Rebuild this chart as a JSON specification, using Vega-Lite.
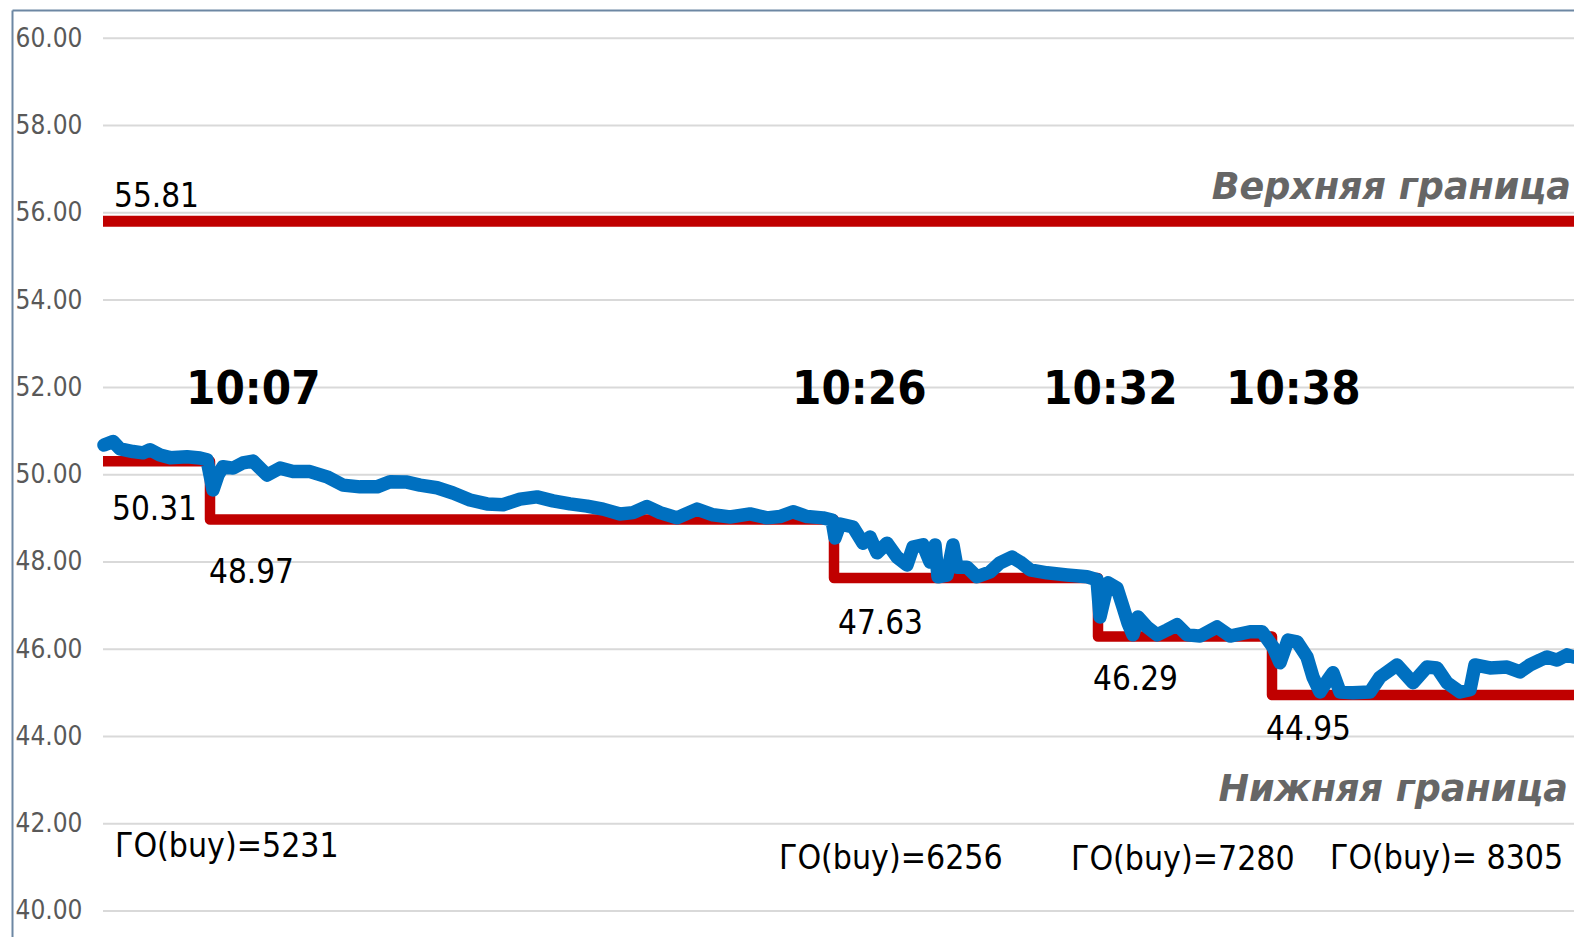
{
  "$schema": "https://vega.github.io/schema/vega-lite/v6.json",
  "width": 1562,
  "height": 927,
  "autosize": {"type": "none"},
  "padding": {"left": 12, "top": 10, "right": 0, "bottom": 0},
  "background": "white",
  "config": {"view": {"stroke": null}},
  "datasets": {
    "gridlines": [{"v": 40}, {"v": 42}, {"v": 44}, {"v": 46}, {"v": 48}, {"v": 50}, {"v": 52}, {"v": 54}, {"v": 56}, {"v": 58}, {"v": 60}],
    "upper": [{"n": 0, "v": 55.81}, {"n": 1471, "v": 55.81}],
    "steps": [{"n": 0, "v": 50.31}, {"n": 107, "v": 48.97}, {"n": 731, "v": 47.63}, {"n": 995, "v": 46.29}, {"n": 1169, "v": 44.95}, {"n": 1471, "v": 44.95}],
    "price": [
      {"n":1,"v":50.68},{"n":10,"v":50.76},{"n":17,"v":50.59},{"n":30,"v":50.53},{"n":40,"v":50.50},{"n":47,"v":50.57},{"n":57,"v":50.45},{"n":67,"v":50.39},{"n":84,"v":50.41},{"n":97,"v":50.38},{"n":104,"v":50.34},{"n":110,"v":49.65},{"n":115,"v":49.99},{"n":120,"v":50.18},{"n":130,"v":50.15},{"n":140,"v":50.27},{"n":150,"v":50.31},{"n":164,"v":49.99},{"n":177,"v":50.15},{"n":190,"v":50.07},{"n":207,"v":50.07},{"n":224,"v":49.95},{"n":240,"v":49.76},{"n":257,"v":49.72},{"n":274,"v":49.72},{"n":287,"v":49.84},{"n":304,"v":49.83},{"n":317,"v":49.76},{"n":334,"v":49.70},{"n":350,"v":49.58},{"n":367,"v":49.42},{"n":384,"v":49.33},{"n":400,"v":49.31},{"n":417,"v":49.44},{"n":434,"v":49.49},{"n":450,"v":49.40},{"n":467,"v":49.33},{"n":484,"v":49.28},{"n":500,"v":49.21},{"n":517,"v":49.10},{"n":530,"v":49.13},{"n":544,"v":49.27},{"n":557,"v":49.13},{"n":574,"v":49.01},{"n":594,"v":49.21},{"n":610,"v":49.08},{"n":627,"v":49.03},{"n":647,"v":49.10},{"n":664,"v":49.01},{"n":677,"v":49.04},{"n":690,"v":49.15},{"n":704,"v":49.04},{"n":720,"v":49.01},{"n":729,"v":48.96},{"n":732,"v":48.55},{"n":737,"v":48.87},{"n":750,"v":48.80},{"n":760,"v":48.43},{"n":767,"v":48.57},{"n":774,"v":48.21},{"n":784,"v":48.43},{"n":794,"v":48.11},{"n":804,"v":47.93},{"n":810,"v":48.34},{"n":820,"v":48.39},{"n":827,"v":48.00},{"n":832,"v":48.39},{"n":835,"v":47.66},{"n":844,"v":47.70},{"n":850,"v":48.39},{"n":854,"v":47.88},{"n":864,"v":47.88},{"n":874,"v":47.66},{"n":887,"v":47.77},{"n":897,"v":47.98},{"n":909,"v":48.11},{"n":917,"v":48.00},{"n":927,"v":47.82},{"n":944,"v":47.75},{"n":964,"v":47.70},{"n":984,"v":47.66},{"n":994,"v":47.59},{"n":997,"v":46.74},{"n":1005,"v":47.52},{"n":1014,"v":47.40},{"n":1020,"v":46.97},{"n":1025,"v":46.60},{"n":1030,"v":46.33},{"n":1035,"v":46.74},{"n":1044,"v":46.51},{"n":1054,"v":46.33},{"n":1064,"v":46.44},{"n":1074,"v":46.56},{"n":1084,"v":46.33},{"n":1097,"v":46.30},{"n":1114,"v":46.51},{"n":1127,"v":46.30},{"n":1147,"v":46.40},{"n":1159,"v":46.40},{"n":1170,"v":46.05},{"n":1177,"v":45.69},{"n":1185,"v":46.21},{"n":1194,"v":46.17},{"n":1204,"v":45.82},{"n":1210,"v":45.36},{"n":1217,"v":45.02},{"n":1225,"v":45.30},{"n":1230,"v":45.46},{"n":1237,"v":45.02},{"n":1250,"v":45.00},{"n":1267,"v":45.02},{"n":1277,"v":45.36},{"n":1294,"v":45.64},{"n":1310,"v":45.23},{"n":1324,"v":45.59},{"n":1334,"v":45.57},{"n":1344,"v":45.23},{"n":1357,"v":45.02},{"n":1367,"v":45.07},{"n":1372,"v":45.64},{"n":1387,"v":45.57},{"n":1404,"v":45.59},{"n":1417,"v":45.48},{"n":1427,"v":45.64},{"n":1437,"v":45.75},{"n":1444,"v":45.82},{"n":1454,"v":45.75},{"n":1464,"v":45.87},{"n":1471,"v":45.82}
    ],
    "values": [
      {"n": 11, "v": 56.14, "label": "55.81"},
      {"n": 9, "v": 48.96, "label": "50.31"},
      {"n": 106, "v": 47.52, "label": "48.97"},
      {"n": 735, "v": 46.35, "label": "47.63"},
      {"n": 990, "v": 45.07, "label": "46.29"},
      {"n": 1163, "v": 43.92, "label": "44.95"}
    ],
    "times": [
      {"n": 83, "v": 51.63, "label": "10:07"},
      {"n": 689, "v": 51.63, "label": "10:26"},
      {"n": 940, "v": 51.63, "label": "10:32"},
      {"n": 1123, "v": 51.63, "label": "10:38"}
    ],
    "margins": [
      {"n": 12, "v": 41.24, "label": "ГО(buy)=5231"},
      {"n": 676, "v": 40.96, "label": "ГО(buy)=6256"},
      {"n": 968, "v": 40.95, "label": "ГО(buy)=7280"},
      {"n": 1227, "v": 40.96, "label": "ГО(buy)= 8305"}
    ],
    "bounds": [
      {"n": 1468, "v": 56.31, "label": "Верхняя граница"},
      {"n": 1465, "v": 42.53, "label": "Нижняя граница"}
    ]
  },
  "layer": [
    {
      "data": {"name": "gridlines"},
      "mark": {"type": "rule", "color": "#d9d9d9", "strokeWidth": 2},
      "encoding": {
        "x": {"datum": 0, "type": "quantitative", "scale": {"domain": [-91, 1471], "nice": false, "zero": false}},
        "x2": {"datum": 1471},
        "y": {"field": "v", "type": "quantitative", "scale": {"domain": [39.404, 60.649], "nice": false, "zero": false}}
      }
    },
    {
      "data": {"name": "upper"},
      "mark": {"type": "line", "color": "#C00000", "strokeWidth": 11, "strokeCap": "butt"},
      "encoding": {
        "x": {
          "field": "n", "type": "quantitative",
          "scale": {"domain": [-91, 1471], "nice": false, "zero": false},
          "axis": {"orient": "top", "title": null, "labels": false, "ticks": false, "grid": false, "domain": true, "domainColor": "#6d87a3", "domainWidth": 2}
        },
        "y": {
          "field": "v", "type": "quantitative",
          "scale": {"domain": [39.404, 60.649], "nice": false, "zero": false},
          "axis": {"title": null, "values": [40, 42, 44, 46, 48, 50, 52, 54, 56, 58, 60], "format": ".2f", "grid": false, "ticks": false, "tickSize": 0, "labelAlign": "left", "labelBaseline": "middle", "labelPadding": -3, "labelFont": "DejaVu Sans Condensed", "labelFontSize": 26, "labelColor": "#595959", "labelOverlap": false, "domain": true, "domainColor": "#6d87a3", "domainWidth": 2}
        }
      }
    },
    {
      "data": {"name": "steps"},
      "mark": {"type": "line", "color": "#C00000", "strokeWidth": 10.5, "interpolate": "step-after", "strokeJoin": "round", "strokeCap": "butt"},
      "encoding": {"x": {"field": "n", "type": "quantitative"}, "y": {"field": "v", "type": "quantitative"}}
    },
    {
      "data": {"name": "price"},
      "mark": {"type": "line", "color": "#0070C0", "strokeWidth": 13.5, "strokeJoin": "round", "strokeCap": "round"},
      "encoding": {"x": {"field": "n", "type": "quantitative"}, "y": {"field": "v", "type": "quantitative"}}
    },
    {
      "data": {"name": "values"},
      "mark": {"type": "text", "align": "left", "baseline": "alphabetic", "font": "DejaVu Sans Condensed", "fontSize": 33, "color": "#000000"},
      "encoding": {"x": {"field": "n", "type": "quantitative"}, "y": {"field": "v", "type": "quantitative"}, "text": {"field": "label"}}
    },
    {
      "data": {"name": "times"},
      "mark": {"type": "text", "align": "left", "baseline": "alphabetic", "font": "DejaVu Sans Condensed", "fontWeight": "bold", "fontSize": 47, "color": "#000000"},
      "encoding": {"x": {"field": "n", "type": "quantitative"}, "y": {"field": "v", "type": "quantitative"}, "text": {"field": "label"}}
    },
    {
      "data": {"name": "margins"},
      "mark": {"type": "text", "align": "left", "baseline": "alphabetic", "font": "DejaVu Sans Condensed", "fontSize": 33.5, "color": "#000000"},
      "encoding": {"x": {"field": "n", "type": "quantitative"}, "y": {"field": "v", "type": "quantitative"}, "text": {"field": "label"}}
    },
    {
      "data": {"name": "bounds"},
      "mark": {"type": "text", "align": "right", "baseline": "alphabetic", "font": "DejaVu Sans", "fontWeight": "bold", "fontStyle": "italic", "fontSize": 36.5, "color": "#666666"},
      "encoding": {"x": {"field": "n", "type": "quantitative"}, "y": {"field": "v", "type": "quantitative"}, "text": {"field": "label"}}
    }
  ]
}
